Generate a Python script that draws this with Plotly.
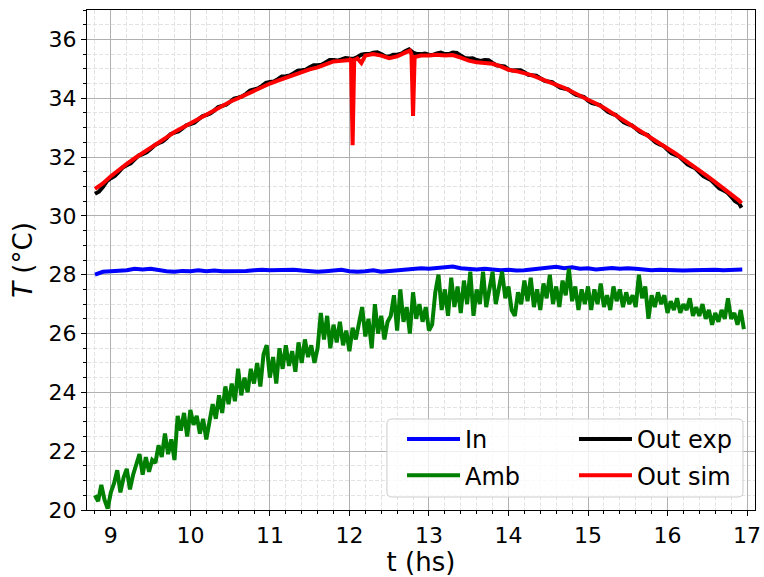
import numpy as np
import plotly.graph_objects as go

# ---------------- data ----------------
# Inlet temperature (In), sampled every 0.1 h
t_in = [8.8, 8.9, 9.0, 9.1, 9.2, 9.3, 9.4, 9.5, 9.6, 9.7, 9.8, 9.9, 10.0, 10.1, 10.2, 10.3, 10.4,
        10.5, 10.6, 10.7, 10.8, 10.9, 11.0, 11.1, 11.2, 11.3, 11.4, 11.5, 11.6, 11.7, 11.8, 11.9,
        12.0, 12.1, 12.2, 12.3, 12.4, 12.5, 12.6, 12.7, 12.8, 12.9, 13.0, 13.1, 13.2, 13.3, 13.4,
        13.5, 13.6, 13.7, 13.8, 13.9, 14.0, 14.1, 14.2, 14.3, 14.4, 14.5, 14.6, 14.7, 14.8, 14.9,
        15.0, 15.1, 15.2, 15.3, 15.4, 15.5, 15.6, 15.7, 15.8, 15.9, 16.0, 16.1, 16.2, 16.3, 16.4,
        16.5, 16.6, 16.7, 16.8, 16.9, 16.94]
T_in = [28.0, 28.1, 28.12, 28.13, 28.15, 28.2, 28.18, 28.2, 28.15, 28.12, 28.1, 28.13, 28.12,
        28.15, 28.12, 28.14, 28.12, 28.12, 28.1, 28.13, 28.15, 28.17, 28.15, 28.16, 28.14, 28.17,
        28.14, 28.12, 28.1, 28.12, 28.15, 28.17, 28.12, 28.1, 28.12, 28.15, 28.1, 28.12, 28.16,
        28.18, 28.2, 28.22, 28.2, 28.22, 28.25, 28.28, 28.22, 28.2, 28.18, 28.2, 28.16, 28.15,
        28.17, 28.14, 28.15, 28.18, 28.2, 28.22, 28.27, 28.22, 28.25, 28.2, 28.22, 28.18, 28.2,
        28.23, 28.2, 28.22, 28.2, 28.18, 28.15, 28.17, 28.15, 28.16, 28.14, 28.15, 28.16, 28.15,
        28.17, 28.15, 28.16, 28.15, 28.18]

# Ambient temperature (Amb), sampled every 0.04 h starting at 8.80 h
amb_t0 = 8.80
amb_dt = 0.04
T_amb = [20.5, 20.3, 20.85, 20.35, 20.05, 20.6,
         20.9, 21.35, 20.6, 21.1, 21.4, 20.7, 21.2,
         21.5, 21.9, 21.2, 21.8, 21.3, 21.7,
         21.6, 22.2, 21.8, 22.6, 21.9, 22.4, 21.7,
         23.2, 22.7, 23.3, 22.5, 23.4, 22.9, 23.2, 22.6, 23.1, 22.4, 23.0,
         23.6, 23.1, 23.9, 23.3, 24.2, 23.6,
         24.3, 23.7, 24.8, 23.9, 24.5, 24.0, 24.8,
         24.3, 25.0, 24.2, 25.3, 25.6, 24.5, 25.2, 24.3, 25.5, 24.8, 25.6, 24.9, 25.4, 24.7,
         25.7, 25.0, 25.8, 25.2, 25.6, 25.0, 25.5,
         26.7, 25.8, 26.6, 25.5, 26.3, 25.7, 26.4, 25.6, 26.1, 25.4, 26.2, 25.8, 26.3,
         26.9, 25.9, 26.5, 25.5, 27.0, 26.0, 26.6, 25.8, 26.4,
         26.6, 27.3, 26.1, 27.5, 26.4, 26.9, 26.0, 27.4, 26.5, 27.0,
         26.4, 26.9, 26.1, 26.3,
         27.4, 28.0, 26.8, 27.5, 26.6, 27.9, 26.9, 27.6, 26.7, 27.8, 27.0, 28.1, 26.6, 27.5,
         27.0, 28.1, 26.9, 27.6,
         28.1, 27.0, 27.6, 28.1, 27.2, 27.6, 26.8, 26.6, 27.4, 27.0, 27.8, 27.1, 27.9, 26.9,
         27.5, 26.8, 27.7, 27.2, 28.0, 27.0, 27.6, 26.9, 27.8, 27.3, 28.2, 27.1, 27.6, 26.8,
         27.5, 27.0,
         27.6, 26.8, 27.5, 27.0, 27.7, 26.9, 27.3, 26.8, 27.6, 27.1, 27.5, 26.9, 27.4, 27.0,
         27.3, 26.9, 28.0, 27.2, 27.6,
         26.5, 27.3, 26.9, 27.4, 27.0, 27.3, 26.7, 27.1, 26.8, 27.2, 26.7, 27.0, 26.8, 27.2,
         26.6, 26.9,
         26.6, 27.0, 26.5, 26.8, 26.3, 26.7, 26.4, 26.8, 26.5, 27.2, 26.5, 26.7, 26.3, 26.8,
         26.15]
t_amb = np.round(amb_t0 + amb_dt * np.arange(len(T_amb)), 2)

# Outlet temperature, experimental (Out exp): readings on the 0.1 h grid ...
t_exp_a = [8.8, 8.9, 9.0, 9.1, 9.2, 9.3, 9.4, 9.5, 9.6, 9.7, 9.8, 9.9, 10.0, 10.1, 10.2, 10.3,
           10.4, 10.5, 10.6, 10.7, 10.8, 10.9, 11.0, 11.1, 11.2, 11.3, 11.4, 11.5, 11.6, 11.7,
           11.8, 11.9, 12.0, 12.1, 12.2, 12.3, 12.4, 12.5, 12.6, 12.7, 12.8, 12.9, 13.0, 13.1,
           13.2, 13.3, 13.4, 13.5, 13.6, 13.7, 13.8, 13.9, 14.0, 14.1, 14.2, 14.3, 14.4, 14.5,
           14.6, 14.7, 14.8, 14.9, 15.0, 15.1, 15.2, 15.3, 15.4, 15.5, 15.6, 15.7, 15.8, 15.9,
           16.0, 16.1, 16.2, 16.3, 16.4, 16.5, 16.6, 16.7, 16.8, 16.9, 16.93]
T_exp_a = [30.75, 30.98, 31.28, 31.5, 31.72, 31.92, 32.1, 32.27, 32.47, 32.64, 32.83, 32.97,
           33.12, 33.28, 33.43, 33.58, 33.74, 33.88, 34.02, 34.15, 34.3, 34.42, 34.55, 34.65,
           34.75, 34.85, 34.95, 35.05, 35.12, 35.22, 35.3, 35.32, 35.35, 35.4, 35.5, 35.55,
           35.5, 35.42, 35.48, 35.6, 35.55, 35.5, 35.48, 35.52, 35.5, 35.55, 35.45, 35.35, 35.3,
           35.3, 35.2, 35.1, 34.98, 34.95, 34.88, 34.78, 34.68, 34.57, 34.45, 34.33, 34.2,
           34.08, 33.92, 33.8, 33.65, 33.48, 33.3, 33.12, 32.97, 32.8, 32.62, 32.43, 32.25,
           32.07, 31.88, 31.68, 31.48, 31.28, 31.07, 30.87, 30.65, 30.42, 30.28]
# ... and the readings in between (8.85, 8.95, ..., 16.85)
T_exp_b = [30.82, 31.18, 31.36, 31.65, 31.79, 32.05, 32.16, 32.4, 32.53, 32.78, 32.87, 33.08,
           33.17, 33.39, 33.48, 33.7, 33.78, 33.99, 34.06, 34.26, 34.33, 34.52, 34.57, 34.74,
           34.77, 34.94, 34.97, 35.12, 35.14, 35.3, 35.28, 35.37, 35.34, 35.48, 35.5, 35.56,
           35.43, 35.48, 35.51, 35.66, 35.5, 35.52, 35.47, 35.55, 35.5, 35.54, 35.37, 35.36,
           35.27, 35.29, 35.12, 35.08, 34.94, 34.95, 34.8, 34.77, 34.6, 34.55, 34.36, 34.3,
           34.11, 34.04, 33.83, 33.77, 33.54, 33.43, 33.18, 33.08, 32.86, 32.75, 32.5, 32.38,
           32.13, 32.01, 31.75, 31.62, 31.35, 31.21, 30.94, 30.8, 30.5]
t_exp_b = [round(t + 0.05, 2) for t in t_exp_a[:len(T_exp_b)]]
_exp = sorted(zip(t_exp_a + t_exp_b, T_exp_a + T_exp_b))
t_exp = [p[0] for p in _exp]
T_exp = [p[1] for p in _exp]

# Outlet temperature, simulated (Out sim)
t_sim = [8.8, 8.9, 9.0, 9.1, 9.2, 9.3, 9.4, 9.5, 9.6, 9.7, 9.8, 9.9, 10.0, 10.1, 10.2, 10.3,
         10.4, 10.5, 10.6, 10.7, 10.8, 10.9, 11.0, 11.1, 11.2, 11.3, 11.4, 11.5, 11.6, 11.7,
         11.8, 11.9, 12.0, 12.02, 12.04, 12.06, 12.1, 12.15, 12.2, 12.3, 12.4, 12.5, 12.6,
         12.7, 12.76, 12.78, 12.8, 12.82, 12.9, 13.0, 13.1, 13.2, 13.3, 13.4, 13.5, 13.6,
         13.7, 13.8, 13.9, 14.0, 14.1, 14.2, 14.3, 14.4, 14.5, 14.6, 14.7, 14.8, 14.9, 15.0,
         15.1, 15.2, 15.3, 15.4, 15.5, 15.6, 15.7, 15.8, 15.9, 16.0, 16.1, 16.2, 16.3, 16.4,
         16.5, 16.6, 16.7, 16.8, 16.9, 16.93]
T_sim = [30.92, 31.1, 31.35, 31.57, 31.77, 31.96, 32.13, 32.32, 32.5, 32.67, 32.85, 33.0,
         33.15, 33.3, 33.45, 33.6, 33.75, 33.88, 34.0, 34.13, 34.27, 34.4, 34.5, 34.6, 34.7,
         34.8, 34.9, 34.98, 35.05, 35.15, 35.25, 35.27, 35.3, 35.35, 32.4, 35.3, 35.35, 35.2,
         35.45, 35.5, 35.45, 35.36, 35.42, 35.55, 35.62, 35.5, 33.4, 35.4, 35.45, 35.45, 35.48,
         35.45, 35.47, 35.38, 35.28, 35.22, 35.2, 35.17, 35.08, 34.97, 34.92, 34.85, 34.78,
         34.67, 34.57, 34.47, 34.35, 34.22, 34.1, 33.95, 33.82, 33.68, 33.5, 33.33, 33.15,
         33.0, 32.83, 32.65, 32.47, 32.3, 32.12, 31.93, 31.75, 31.55, 31.35, 31.15, 30.95,
         30.75, 30.52, 30.43]

x_range = [8.7, 17.1]
y_range = [20, 37]
x_ticks = [9, 10, 11, 12, 13, 14, 15, 16, 17]
y_ticks = [20, 22, 24, 26, 28, 30, 32, 34, 36]

# ---------------- figure ----------------
FONT = "DejaVu Sans"
LW = 4

fig = go.Figure()
fig.add_trace(go.Scatter(x=t_in, y=T_in, mode="lines", name="In",
                         line=dict(color="#0000ff", width=LW),
                         legend="legend", legendgroup="a", legendrank=1))
fig.add_trace(go.Scatter(x=t_amb, y=T_amb, mode="lines", name="Amb",
                         line=dict(color="#008000", width=LW),
                         legend="legend", legendgroup="b", legendrank=2))
fig.add_trace(go.Scatter(x=t_exp, y=T_exp, mode="lines", name="Out exp",
                         line=dict(color="#000000", width=LW),
                         legend="legend2", legendgroup="c", legendrank=1))
fig.add_trace(go.Scatter(x=t_sim, y=T_sim, mode="lines", name="Out sim",
                         line=dict(color="#ff0000", width=LW),
                         legend="legend2", legendgroup="d", legendrank=2))

axis_common = dict(
    showline=True, linecolor="black", linewidth=1.2, mirror=True,
    ticks="outside", ticklen=5, tickwidth=1.2, tickcolor="black",
    showgrid=True, gridcolor="#b0b0b0", gridwidth=1,
    zeroline=False, automargin=False,
    tickfont=dict(family=FONT, size=22, color="black"),
)

fig.update_xaxes(
    range=x_range, tickvals=x_ticks,
    title=dict(text="t (hs)", font=dict(family=FONT, size=26, color="black"), standoff=6),
    minor=dict(dtick=0.2, tick0=8.8, ticks="outside", ticklen=3, tickcolor="black",
               showgrid=True, gridcolor="#e2e2e2", griddash="4px,2px", gridwidth=0.7),
    **axis_common,
)
fig.update_yaxes(
    range=y_range, tickvals=y_ticks,
    title=dict(text="<i>T</i> (°C)", font=dict(family=FONT, size=26, color="black"), standoff=8),
    minor=dict(dtick=0.5, tick0=20, ticks="outside", ticklen=3, tickcolor="black",
               showgrid=True, gridcolor="#e2e2e2", griddash="4px,2px", gridwidth=0.7),
    **axis_common,
)

# legend background box (rounded), in paper coordinates
x0, x1, y0, y1 = 0.449, 0.982, 0.026, 0.182
rx, ry = 5 / 668, 5 / 500
path = (f"M{x0+rx},{y0} L{x1-rx},{y0} Q{x1},{y0} {x1},{y0+ry} L{x1},{y1-ry} "
        f"Q{x1},{y1} {x1-rx},{y1} L{x0+rx},{y1} Q{x0},{y1} {x0},{y1-ry} "
        f"L{x0},{y0+ry} Q{x0},{y0} {x0+rx},{y0} Z")
fig.add_shape(type="path", path=path, xref="paper", yref="paper",
              fillcolor="rgba(255,255,255,0.8)", line=dict(color="#cccccc", width=1),
              layer="above")

legend_common = dict(
    bgcolor="rgba(0,0,0,0)", borderwidth=0,
    font=dict(family=FONT, size=24, color="black"),
    orientation="v", yanchor="top", xanchor="left",
    tracegroupgap=2, itemwidth=53,
)
fig.update_layout(
    width=764, height=577,
    margin=dict(l=87, r=9, t=10, b=67),
    paper_bgcolor="white", plot_bgcolor="white",
    font=dict(family=FONT, color="black"),
    showlegend=True,
    legend=dict(x=0.4716, y=0.186, **legend_common),
    legend2=dict(x=0.729, y=0.186, **legend_common),
)

fig.write_html("out.html")
